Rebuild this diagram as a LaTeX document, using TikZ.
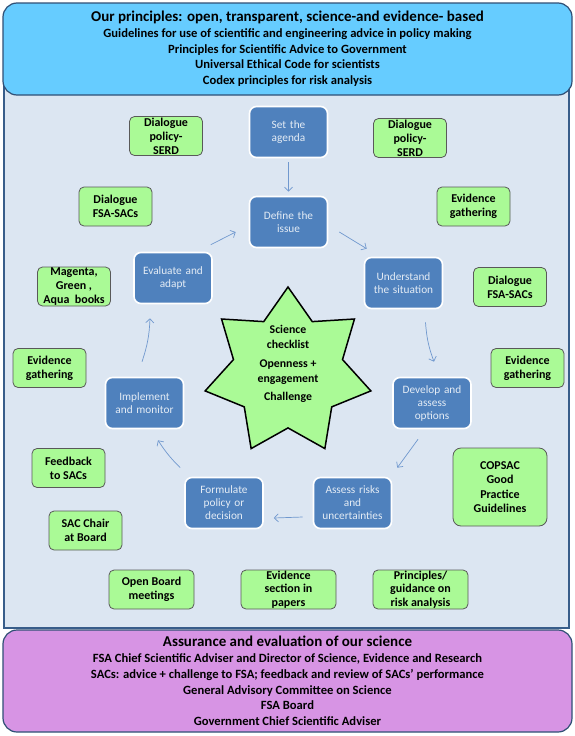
\documentclass[tikz,border=0pt]{standalone}
\usepackage{fontspec}
\setmainfont{Carlito}
\usetikzlibrary{arrows.meta,shapes.geometric}

\definecolor{panelbg}{RGB}{220,230,242}
\definecolor{framecol}{RGB}{56,93,138}
\definecolor{stepblue}{RGB}{79,129,189}
\definecolor{arrowblue}{RGB}{112,152,206}
\definecolor{notegreen}{RGB}{170,250,150}
\definecolor{topband}{RGB}{102,204,255}
\definecolor{bottomband}{RGB}{215,148,228}

\begin{document}
\begin{tikzpicture}[x=1pt, y=-1pt, >={Straight Barb[length=4pt,width=8pt]},
  stepbox/.style={draw=white, line width=1.6pt, fill=stepblue, rounded corners=7pt,
    minimum width=78pt, minimum height=51pt, text width=78pt, align=center,
    text=white!85!stepblue, font=\fontsize{11.3}{13}\selectfont, inner sep=0pt},
  notebox/.style={draw=black!65, line width=0.8pt, fill=notegreen, rounded corners=5pt,
    minimum width=73pt, minimum height=39pt, align=center,
    font=\bfseries\fontsize{12}{14}\selectfont, inner sep=0pt},
  flow/.style={->, arrowblue, line width=0.7pt},
  band/.style={draw=framecol!85!black, line width=1.2pt, rounded corners=14pt,
    minimum width=569pt, align=center, font=\bfseries\fontsize{12.6}{15.7}\selectfont}
]

\useasboundingbox (0,0) rectangle (575,736);

% background panel
\draw[framecol, line width=1.5pt, fill=panelbg] (4,80) rectangle (569,628);

% --- top and bottom bands ---
\node[band, fill=topband, minimum height=92pt] (principles) at (287.5,49)
  {{\fontsize{15}{16}\selectfont Our principles: open, transparent, science-and evidence- based}\\
   Guidelines for use of scientific and engineering advice in policy making\\
   Principles for Scientific Advice to Government\\
   Universal Ethical Code for scientists\\
   Codex principles for risk analysis};

\node[band, fill=bottomband, minimum height=102pt] (assurance) at (287.5,681)
  {{\fontsize{15}{16}\selectfont Assurance and evaluation of our science}\\
   FSA Chief Scientific Adviser and Director of Science, Evidence and Research\\
   SACs: advice + challenge to FSA; feedback and review of SACs' performance\\
   General Advisory Committee on Science\\
   FSA Board\\
   Government Chief Scientific Adviser};

% --- policy cycle ---
\node[stepbox] (agenda)     at (288.5,132) {Set the\\agenda};
\node[stepbox] (issue)      at (288.5,222) {Define the\\issue};
\node[stepbox] (situation)  at (403.5,283) {Understand\\the situation};
\node[stepbox] (options)    at (432,403)   {Develop and\\assess\\options};
\node[stepbox] (risks)      at (352.5,503) {Assess risks\\and\\uncertainties};
\node[stepbox] (decision)   at (224,503)   {Formulate\\policy or\\decision};
\node[stepbox] (monitor)    at (144.5,403) {Implement\\and monitor};
\node[stepbox] (adapt)      at (173,278)   {Evaluate and\\adapt};

\draw[flow, shorten <=4pt, shorten >=4pt] (agenda.south) -- (issue.north);
\draw[flow] ([xshift=11pt,yshift=-10pt]issue.east) -- ([xshift=3pt,yshift=8pt]situation.north west);
\draw[flow] ([xshift=22pt,yshift=-13pt]situation.south) to[bend right=8] ([xshift=2pt,yshift=15pt]options.north);
\draw[flow] ([xshift=-14pt,yshift=-10pt]options.south) -- ([xshift=5pt,yshift=9pt]risks.north east);
\draw[flow] ([xshift=-10pt,yshift=-14pt]risks.west) -- ([xshift=10pt,yshift=-15pt]decision.east);
\draw[flow] ([xshift=-4pt,yshift=9pt]decision.north west) to[bend left=6] ([xshift=13.5pt,yshift=-11pt]monitor.south);
\draw[flow] ([xshift=-2.5pt,yshift=15pt]monitor.north) to[bend right=8] ([xshift=-23pt,yshift=-14pt]adapt.south);
\draw[flow] ([xshift=-2pt,yshift=7pt]adapt.north east) -- ([xshift=-13pt,yshift=-10pt]issue.west);

% --- central star ---
\node[star, star points=7, star point ratio=1.52, minimum size=170pt, inner sep=0pt,
  fill=notegreen, draw=black, line width=1.5pt] (star) at (288,372) {};
\node[align=center, font=\bfseries\fontsize{11.8}{15}\selectfont] (checklist) at (288,364)
  {Science\\checklist\\[3.5pt]Openness +\\engagement\\[3.5pt]Challenge};

% --- supporting activities ---
\foreach \nm/\x/\y/\txt in {
    serdL/166/136/{Dialogue\\policy-\\SERD},
    sacsL/115.5/206.5/{Dialogue\\FSA-SACs},
    books/74/286.5/{Magenta,\\Green ,\\Aqua\ \ books},
    evidL/49.5/368/{Evidence\\gathering},
    feedback/68.5/468/{Feedback\\to SACs},
    chair/85.5/530.5/{SAC Chair\\at Board},
    serdR/410/138/{Dialogue\\policy-\\SERD},
    evidR/473.5/206.5/{Evidence\\gathering},
    sacsR/510/287/{Dialogue\\FSA-SACs},
    evidRR/527.5/368/{Evidence\\gathering}}
  \node[notebox] (\nm) at (\x,\y) {\txt};

\node[notebox, minimum width=85pt] (openboard) at (151.5,589.5) {Open Board\\meetings};
\node[notebox, minimum width=95pt, font=\bfseries\fontsize{12}{13.5}\selectfont] (papers) at (288.5,589.5) {Evidence\\section in\\papers};
\node[notebox, minimum width=95pt, font=\bfseries\fontsize{12}{13.5}\selectfont] (riskguide) at (420.5,589.5) {Principles/\\guidance on\\risk analysis};
\node[notebox, minimum width=94pt, minimum height=78pt, rounded corners=8pt,
  font=\bfseries\fontsize{12}{14.5}\selectfont] (copsac) at (500,487) {COPSAC\\Good\\Practice\\Guidelines};

\end{tikzpicture}
\end{document}
